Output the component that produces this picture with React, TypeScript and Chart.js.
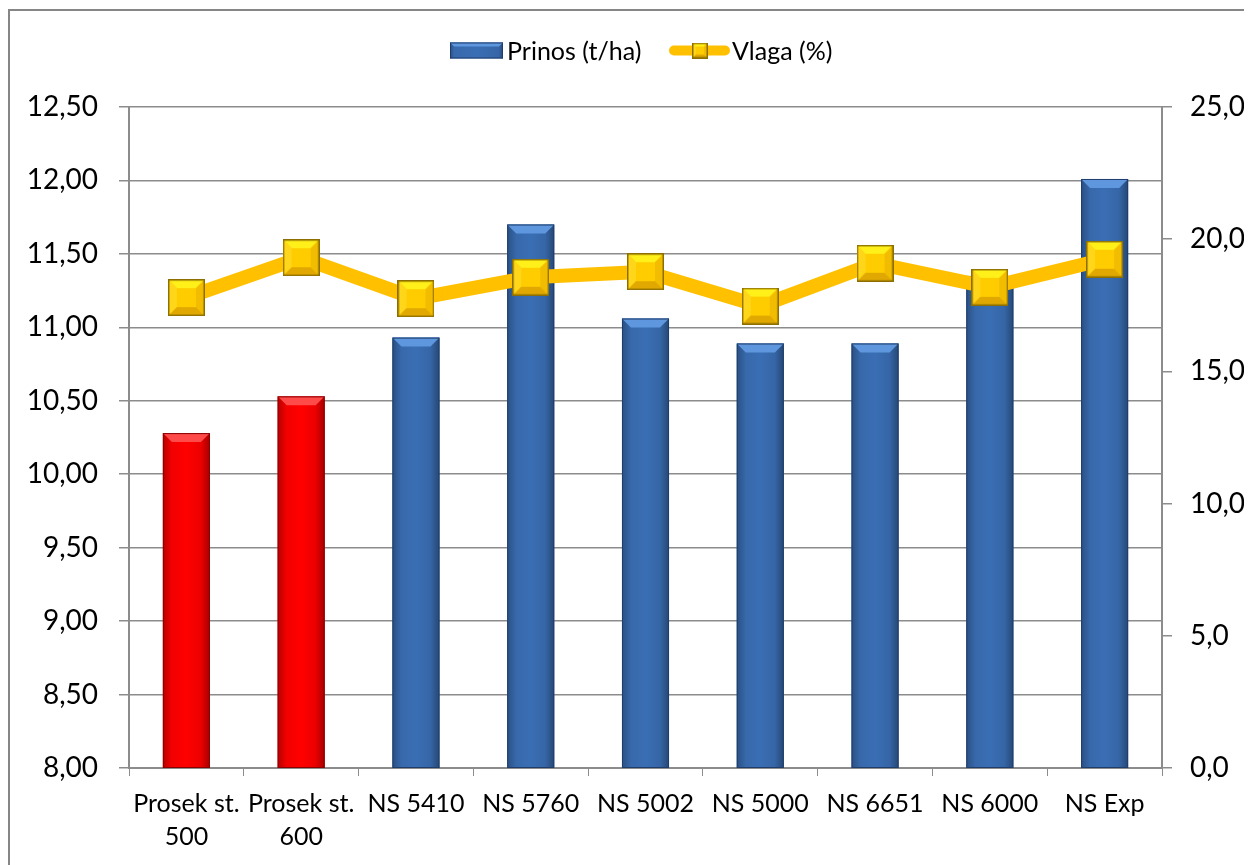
import React, { useEffect, useRef } from "react";
import { Chart, registerables } from "chart.js";

Chart.register(...registerables);

// ---- data ----
const categories: (string | string[])[] = [
  ["Prosek st.", "500"],
  ["Prosek st.", "600"],
  "NS 5410",
  "NS 5760",
  "NS 5002",
  "NS 5000",
  "NS 6651",
  "NS 6000",
  "NS Exp",
];
const yieldValues = [10.28, 10.53, 10.93, 11.7, 11.06, 10.89, 10.89, 11.35, 12.01];
const moistureValues = [17.79, 19.3, 17.75, 18.56, 18.77, 17.47, 19.09, 18.18, 19.24];
const yieldLabel = "Prinos (t/ha)";
const moistureLabel = "Vlaga (%)";
const leftAxis = { min: 8, max: 12.5, step: 0.5 };
const rightAxis = { min: 0, max: 25, step: 5 };
const AVERAGE_COUNT = 2; // first bars are averages (red)

// ---- styles ----
const FONT = "Lato, 'Open Sans', sans-serif";
const GRID = "#8c8c8c";
const BLUE = "#3a6eb4";
const BLUE_TOP = "#5f97de";
const BLUE_EDGE = "#1f3d6b";
const RED = "#ff0000";
const RED_TOP = "#ff4a4a";
const RED_EDGE = "#8a0000";
const LINE = "#ffc000";

function makeMarker(size: number, bevel: number): HTMLCanvasElement {
  const c = document.createElement("canvas");
  c.width = size;
  c.height = size;
  const g = c.getContext("2d")!;
  const s = size;
  const b = bevel;
  g.fillStyle = "#ffcc00";
  g.fillRect(0, 0, s, s);
  g.fillStyle = "#fff01a";
  g.beginPath();
  g.moveTo(0, 0); g.lineTo(s, 0); g.lineTo(s - b, b); g.lineTo(b, b); g.closePath(); g.fill();
  g.fillStyle = "#ffd61a";
  g.beginPath();
  g.moveTo(0, 0); g.lineTo(b, b); g.lineTo(b, s - b); g.lineTo(0, s); g.closePath(); g.fill();
  g.fillStyle = "#f2bd00";
  g.beginPath();
  g.moveTo(s, 0); g.lineTo(s, s); g.lineTo(s - b, s - b); g.lineTo(s - b, b); g.closePath(); g.fill();
  g.fillStyle = "#e0a800";
  g.beginPath();
  g.moveTo(0, s); g.lineTo(b, s - b); g.lineTo(s - b, s - b); g.lineTo(s, s); g.closePath(); g.fill();
  g.strokeStyle = "#8d6e00";
  g.lineWidth = 1.5;
  g.strokeRect(0.75, 0.75, s - 1.5, s - 1.5);
  return c;
}

function drawBevelBar(
  ctx: CanvasRenderingContext2D,
  l: number, r: number, top: number, bottom: number,
  red: boolean, b: number
) {
  const w = r - l;
  ctx.save();
  const gl = ctx.createLinearGradient(l, 0, r, 0);
  gl.addColorStop(0, "rgba(0,0,0,0.28)");
  gl.addColorStop(Math.min(0.5, b / w), "rgba(0,0,0,0.05)");
  gl.addColorStop(0.5, "rgba(0,0,0,0)");
  gl.addColorStop(Math.max(0.5, 1 - b / w), "rgba(0,0,0,0.08)");
  gl.addColorStop(1, "rgba(0,0,0,0.35)");
  ctx.fillStyle = gl;
  ctx.fillRect(l, top, w, bottom - top);
  ctx.fillStyle = red ? RED_TOP : BLUE_TOP;
  ctx.beginPath();
  ctx.moveTo(l, top);
  ctx.lineTo(r, top);
  ctx.lineTo(r - b, top + b);
  ctx.lineTo(l + b, top + b);
  ctx.closePath();
  ctx.fill();
  ctx.strokeStyle = red ? RED_EDGE : BLUE_EDGE;
  ctx.lineWidth = 1;
  ctx.strokeRect(l + 0.5, top + 0.5, w - 1, bottom - top - 1);
  ctx.restore();
}

const framePlugin = {
  id: "frame",
  beforeDraw(chart: any) {
    const { ctx, width, height } = chart;
    ctx.save();
    ctx.fillStyle = "#ffffff";
    ctx.fillRect(0, 0, width, height);
    ctx.strokeStyle = "#868686";
    ctx.lineWidth = 2;
    ctx.strokeRect(1, 2, width - 3, height + 40);
    ctx.restore();
  },
};

const bevelPlugin = {
  id: "bevel",
  afterDatasetDraw(chart: any, args: any) {
    if (args.index !== 0) return;
    const ctx = chart.ctx;
    const bottom = chart.chartArea.bottom;
    const meta = chart.getDatasetMeta(0);
    meta.data.forEach((el: any, i: number) => {
      const p = el.getProps(["x", "y", "base", "width"], true);
      drawBevelBar(ctx, p.x - p.width / 2, p.x + p.width / 2, p.y, Math.min(p.base, bottom), i < AVERAGE_COUNT, 9);
    });
  },
};

const legendPlugin = {
  id: "customLegend",
  afterDraw(chart: any) {
    const ctx: CanvasRenderingContext2D = chart.ctx;
    const cy = 42.5;
    ctx.save();
    ctx.fillStyle = BLUE;
    ctx.fillRect(442, cy - 8, 53, 16);
    drawBevelBar(ctx, 442, 495, cy - 8, cy + 8, false, 4);
    ctx.font = `25px ${FONT}`;
    ctx.fillStyle = "#000";
    ctx.textBaseline = "middle";
    ctx.textAlign = "left";
    ctx.fillText(yieldLabel, 499, cy + 1);
    ctx.strokeStyle = LINE;
    ctx.lineWidth = 10;
    ctx.lineCap = "round";
    ctx.beginPath();
    ctx.moveTo(666, cy);
    ctx.lineTo(717, cy);
    ctx.stroke();
    const m = makeMarker(16, 4);
    ctx.drawImage(m, 684, cy - 8);
    ctx.fillStyle = "#000";
    ctx.fillText(moistureLabel, 724, cy + 1);
    ctx.restore();
  },
};

export default function App() {
  const ref = useRef<HTMLCanvasElement>(null);
  useEffect(() => {
    document.documentElement.style.overflow = "hidden";
    const marker = makeMarker(37, 9);
    const chart = new Chart(ref.current!, {
      type: "bar",
      data: {
        labels: categories as any,
        datasets: [
          {
            type: "bar",
            label: yieldLabel,
            data: yieldValues,
            yAxisID: "y",
            backgroundColor: yieldValues.map((_, i) => (i < AVERAGE_COUNT ? RED : BLUE)),
            borderWidth: 0,
            categoryPercentage: 1,
            barPercentage: 0.41,
            order: 2,
          },
          {
            type: "line",
            label: moistureLabel,
            data: moistureValues,
            yAxisID: "y1",
            borderColor: LINE,
            backgroundColor: LINE,
            borderWidth: 14,
            pointStyle: marker as any,
            pointRadius: 18,
            pointHoverRadius: 18,
            order: 1,
          } as any,
        ],
      },
      options: {
        responsive: false,
        animation: false,
        layout: { padding: { top: 99, left: 0, right: 0, bottom: 0 } },
        plugins: { legend: { display: false }, tooltip: { enabled: false } },
        scales: {
          x: {
            grid: { drawOnChartArea: false, drawTicks: true, tickLength: 8, color: GRID, offset: true },
            border: { color: GRID, width: 2 },
            ticks: { color: "#000", font: { family: FONT, size: 25, lineHeight: 1.33 }, padding: 11, maxRotation: 0, autoSkip: false },
            afterFit: (s: any) => { s.height = 97; },
          },
          y: {
            position: "left",
            min: leftAxis.min,
            max: leftAxis.max,
            grid: { color: GRID, lineWidth: 1.5, tickLength: 10 },
            border: { color: GRID, width: 2 },
            ticks: {
              stepSize: leftAxis.step,
              color: "#000",
              font: { family: FONT, size: 28 },
              padding: 21,
              callback: (v: any) => Number(v).toFixed(2).replace(".", ","),
            },
            afterFit: (s: any) => { s.width = 121; },
          },
          y1: {
            position: "right",
            min: rightAxis.min,
            max: rightAxis.max,
            grid: { drawOnChartArea: false, color: GRID, lineWidth: 1.5, tickLength: 10 },
            border: { color: GRID, width: 2 },
            ticks: {
              stepSize: rightAxis.step,
              color: "#000",
              font: { family: FONT, size: 28 },
              padding: 18,
              callback: (v: any) => Number(v).toFixed(1).replace(".", ","),
            },
            afterFit: (s: any) => { s.width = 90; },
          },
        },
      },
      plugins: [framePlugin, bevelPlugin, legendPlugin],
    });
    return () => chart.destroy();
  }, []);
  return (
    <div style={{ width: 1244, height: 857 }}>
      <canvas ref={ref} width={1244} height={857} style={{ display: "block" }} />
    </div>
  );
}
